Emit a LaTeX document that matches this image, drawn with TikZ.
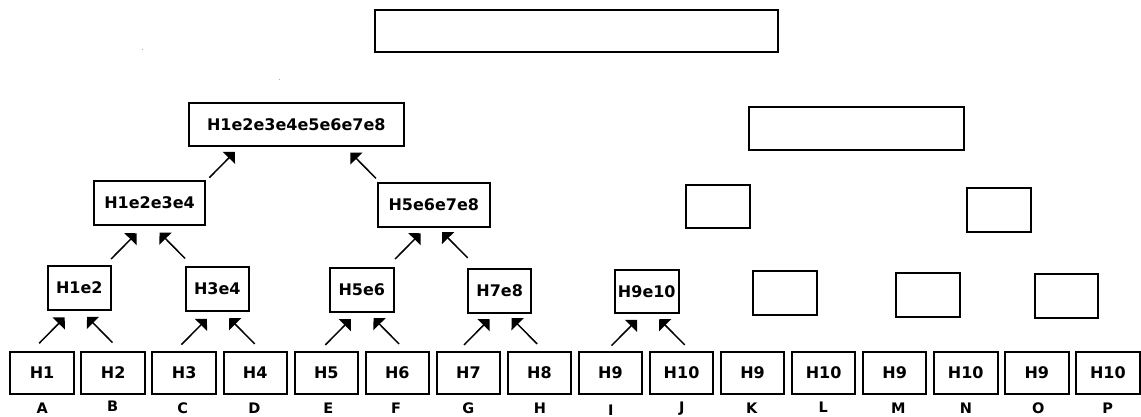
\documentclass[tikz,border=0pt]{standalone}
\usepackage{fontspec}
\setmainfont{DejaVu Sans}
\usetikzlibrary{arrows.meta,calc}
\begin{document}
\begin{tikzpicture}[x=1pt,y=-1pt,
  box/.style={draw=black,line width=2pt,inner sep=0pt,font=\bfseries\fontsize{16}{18}\selectfont},
  leaf/.style={box,minimum width=63.5pt,minimum height=42.5pt},
  small/.style={box,minimum width=63.5pt,minimum height=43.5pt},
  mid/.style={box,minimum width=111.7pt,minimum height=43.7pt},
  big/.style={box,minimum width=215.3pt,minimum height=43.6pt},
  lbl/.style={font=\bfseries\fontsize{14.5}{16}\selectfont,inner sep=0pt},
  arr/.style={line width=1.5pt,-{Triangle[length=8.5pt,width=17pt]}}]
\useasboundingbox (0,0) rectangle (1141,417);

% stray specks
\fill[gray] (142.3,49.3) circle (0.5);
\fill[gray] (279.7,79.3) circle (0.5);

% top empty box
\node[box,line width=2.3pt,minimum width=402.7pt,minimum height=42pt] (t) at (576.5,31.2) {};

% leaves
\node[leaf] (b1)  at (42.1,372.9)  {H1};
\node[leaf] (b2)  at (113.15,372.9) {H2};
\node[leaf] (b3)  at (184.2,372.9) {H3};
\node[leaf] (b4)  at (255.25,372.9) {H4};
\node[leaf] (b5)  at (326.3,372.9) {H5};
\node[leaf] (b6)  at (397.35,372.9) {H6};
\node[leaf] (b7)  at (468.4,372.9) {H7};
\node[leaf] (b8)  at (539.45,372.9) {H8};
\node[leaf] (b9)  at (610.5,372.9) {H9};
\node[leaf] (b10) at (681.55,372.9) {H10};
\node[leaf] (b11) at (752.6,372.9) {H9};
\node[leaf] (b12) at (823.65,372.9) {H10};
\node[leaf] (b13) at (894.7,372.9) {H9};
\node[leaf] (b14) at (965.75,372.9) {H10};
\node[leaf] (b15) at (1036.8,372.9) {H9};
\node[leaf] (b16) at (1107.85,372.9) {H10};

% labels
\node[lbl] (lA) at (42.3,408) {A};
\node[lbl] (lB) at (112.7,406.5) {B};
\node[lbl] (lC) at (182.7,408) {C};
\node[lbl] (lD) at (254.3,408) {D};
\node[lbl] (lE) at (328.3,408) {E};
\node[lbl] (lF) at (396,408) {F};
\node[lbl] (lG) at (468.3,408) {G};
\node[lbl] (lH) at (540,408) {H};
\node[lbl] (lI) at (610.7,410) {I};
\node[lbl] (lJ) at (681.7,408.5) {J};
\node[lbl] (lK) at (751.7,408) {K};
\node[lbl] (lL) at (823.3,407) {L};
\node[lbl] (lM) at (898.3,408) {M};
\node[lbl] (lN) at (966,408) {N};
\node[lbl] (lO) at (1038.3,408.5) {O};
\node[lbl] (lP) at (1107.7,408) {P};

% level 1
\node[small] (n12)  at (79.3,287.8)  {H1e2};
\node[small] (n34)  at (217.3,288.8) {H3e4};
\node[small] (n56)  at (361.8,290)   {H5e6};
\node[small] (n78)  at (499.7,291)   {H7e8};
\node[small] (n910) at (646.8,291.7) {H9e10};
\node[small] (e1)   at (785,293)     {};
\node[small] (e2)   at (928,295)     {};
\node[small] (e3)   at (1066.3,296)  {};

% level 2
\node[mid] (n1234) at (149.5,202.8) {H1e2e3e4};
\node[mid] (n5678) at (433.8,204.7) {H5e6e7e8};
\node[small] (e4) at (717.8,206.7) {};
\node[small] (e5) at (999.2,209.8) {};

% level 3
\node[big] (n18) at (296.3,124.5) {H1e2e3e4e5e6e7e8};
\node[big] (e6)  at (856.7,128.5) {};

% arrows, leaves -> level 1
\draw[arr] ($(b1.north)+(-2.9,-7.4)$) -- ++(25.5,-25.8);
\draw[arr] ($(b2.north)+(-0.6,-8)$) -- ++(-25.5,-25.8);
\draw[arr] ($(b3.north)+(-2.8,-6)$) -- ++(25.5,-25.8);
\draw[arr] ($(b4.north)+(-0.5,-6.7)$) -- ++(-25.5,-25.8);
\draw[arr] ($(b5.north)+(-1,-5.7)$) -- ++(25.5,-25.8);
\draw[arr] ($(b6.north)+(1.7,-6.7)$) -- ++(-25.5,-25.8);
\draw[arr] ($(b7.north)+(-4.4,-5.7)$) -- ++(25.5,-25.8);
\draw[arr] ($(b8.north)+(-2.3,-6.7)$) -- ++(-25.5,-25.8);
\draw[arr] ($(b9.north)+(1,-5)$) -- ++(25.5,-25.8);
\draw[arr] ($(b10.north)+(3.2,-5.7)$) -- ++(-25.5,-25.8);

% level 1 -> level 2
\draw[arr] ($(n12.north east)+(-1,-6)$) -- ++(25.5,-25.8);
\draw[arr] ($(n34.north west)+(0.5,-7.6)$) -- ++(-25.5,-25.8);
\draw[arr] ($(n56.north east)+(0.5,-8.2)$) -- ++(25.5,-25.8);
\draw[arr] ($(n78.north west)+(0.7,-10.4)$) -- ++(-25.5,-25.8);

% level 2 -> level 3
\draw[arr] ($(n1234.north east)+(3,-2.3)$) -- ++(25.5,-25.8);
\draw[arr] ($(n5678.north west)+(-1,-3.5)$) -- ++(-25.5,-25.8);
\end{tikzpicture}
\end{document}
